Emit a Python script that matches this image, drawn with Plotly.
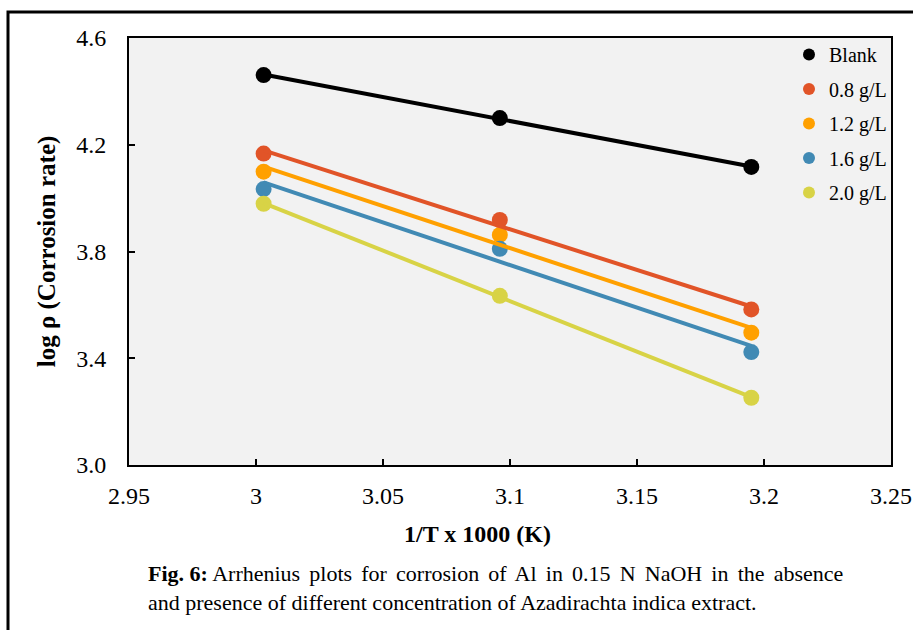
import numpy as np
import plotly.graph_objects as go

# ---- data ----
x_vals = [3.003, 3.096, 3.195]
series_names = ["Blank", "0.8 g/L", "1.2 g/L", "1.6 g/L", "2.0 g/L"]
blank = [4.461, 4.300, 4.117]
c08 = [4.167, 3.918, 3.583]
c12 = [4.099, 3.862, 3.496]
c16 = [4.034, 3.810, 3.423]
c20 = [3.979, 3.634, 3.252]
series_values = [blank, c08, c12, c16, c20]
colors = ["#000000", "#E15428", "#FFA000", "#418AB4", "#D8D346"]
x_tick_vals = [2.95, 3.0, 3.05, 3.1, 3.15, 3.2, 3.25]
x_tick_text = ["2.95", "3", "3.05", "3.1", "3.15", "3.2", "3.25"]
y_tick_vals = [3.0, 3.4, 3.8, 4.2, 4.6]
y_tick_text = ["3.0", "3.4", "3.8", "4.2", "4.6"]

FONT = "Liberation Serif"
fig = go.Figure()

# markers (legend entries)
for name, vals, col in zip(series_names, series_values, colors):
    fig.add_trace(go.Scatter(x=x_vals, y=vals, mode="markers", name=name,
                             legendgroup=name,
                             marker=dict(color=col, size=16)))
# linear trendlines
for name, vals, col in zip(series_names, series_values, colors):
    m, b = np.polyfit(x_vals, vals, 1)
    xs = [min(x_vals), max(x_vals)]
    fig.add_trace(go.Scatter(x=xs, y=[m * v + b for v in xs], mode="lines",
                             showlegend=False, hoverinfo="skip",
                             line=dict(color=col, width=4)))

L, R, T, B = 129, 22, 38, 165
W, H = 913, 630
pw, ph = W - L - R, H - T - B

def px(xp):
    return (xp - L) / pw

def py(yp):
    return (H - B - yp) / ph

fig.update_layout(
    width=W, height=H,
    margin=dict(l=L, r=R, t=T, b=B, pad=0, autoexpand=False),
    paper_bgcolor="white", plot_bgcolor="#F2F2F2",
    font=dict(family=FONT, color="black", size=20),
    legend=dict(x=px(789), xanchor="left", y=py(35), yanchor="top",
                bgcolor="rgba(0,0,0,0)", itemsizing="constant",
                itemwidth=30, tracegroupgap=5.5,
                font=dict(family=FONT, size=20)),
    xaxis=dict(range=[2.95, 3.25], tickvals=x_tick_vals, ticktext=x_tick_text,
               ticks="inside", ticklen=6, tickwidth=1.5, tickcolor="black",
               showline=True, linecolor="black", linewidth=2, mirror=True,
               showgrid=False, zeroline=False,
               tickfont=dict(family=FONT, size=24), ticklabelstandoff=8),
    yaxis=dict(range=[3.0, 4.6], tickvals=y_tick_vals, ticktext=y_tick_text,
               ticks="inside", ticklen=6, tickwidth=1.5, tickcolor="black",
               showline=True, linecolor="black", linewidth=2, mirror=True,
               showgrid=False, zeroline=False,
               tickfont=dict(family=FONT, size=24), ticklabelstandoff=16,
               title=dict(text="<b>log ρ (Corrosion rate)</b>", standoff=13,
                          font=dict(family=FONT, size=25))),
    showlegend=True,
)

# x-axis title (offset left of centre, as in the original)
fig.add_annotation(xref="paper", yref="paper", x=px(477), y=py(534),
                   xanchor="center", yanchor="middle", showarrow=False,
                   text="<b>1/T x 1000 (K)</b>",
                   font=dict(family=FONT, size=24, color="black"))

# outer frame of the figure box
fig.add_shape(type="path", xref="paper", yref="paper",
              path=f"M {px(8)} {py(640)} L {px(8)} {py(12)} L {px(920)} {py(12)}",
              line=dict(color="black", width=3))

sp = "\u2006 "
line1 = sp.join("Arrhenius plots for corrosion of Al in 0.15 N NaOH in the absence".split(" "))
fig.add_annotation(
    xref="paper", yref="paper", x=px(146), y=py(559), xanchor="left", yanchor="top",
    align="left", showarrow=False,
    text="<b>Fig. 6:</b> " + line1 +
         "<br>and presence of different concentration of Azadirachta indica extract.",
    font=dict(family=FONT, size=22, color="black"))

fig.write_html("out.html", config={"displayModeBar": False},
               post_script="document.body.style.margin='0';"
                           "document.documentElement.style.overflow='hidden';")
